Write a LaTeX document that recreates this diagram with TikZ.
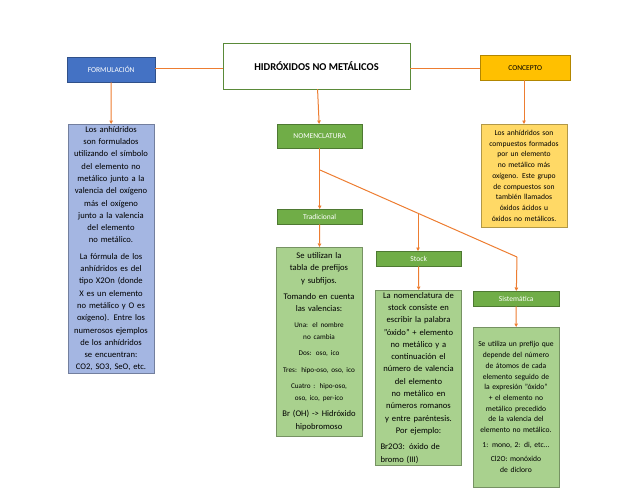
\documentclass[tikz,border=0pt]{standalone}
\usepackage{fontspec}
\setmainfont{Carlito}
\usetikzlibrary{arrows.meta}
\definecolor{lineor}{HTML}{ED7D31}
\definecolor{bluebox}{HTML}{4472C4}
\definecolor{bluelight}{HTML}{A4B6E2}
\definecolor{yellowbox}{HTML}{FFC000}
\definecolor{yellowlight}{HTML}{FFD966}
\definecolor{greenbox}{HTML}{70AD47}
\definecolor{greenlight}{HTML}{A9D18E}
\hyphenpenalty=10000
\tikzset{
  label box/.style={draw=#1!70!black,fill=#1,text=white,font=\fontsize{7.5}{9}\selectfont,minimum height=15pt,inner sep=1pt},
  text box/.style={draw=#1!70!black,fill=#1,font=\fontsize{8.6}{12.3}\selectfont,align=center,anchor=north,inner sep=2pt,text width=76pt,inner xsep=5pt},
  link/.style={lineor,line width=1pt},
  arr/.style={link,-{Triangle[length=3.5pt,width=3.5pt]}}
}
\begin{document}
\begin{tikzpicture}[x=1pt,y=-1pt]
\useasboundingbox (0,0) rectangle (638,493);
\node[draw=greenbox!80!black,minimum width=187pt,minimum height=46pt,font=\bfseries\fontsize{10.5}{12}\selectfont] (title) at (316.5,66) {HIDRÓXIDOS NO METÁLICOS};
\node[label box=bluebox,minimum width=88pt,minimum height=25pt,anchor=north west] (form) at (67,57) {FORMULACIÓN};
\node[label box=yellowbox,text=black,minimum width=90pt,minimum height=25pt,anchor=north west] (conc) at (480,55) {CONCEPTO};
\node[label box=greenbox,minimum width=85pt,minimum height=24pt,anchor=north west] (nomen) at (277,124) {NOMENCLATURA};
\node[label box=greenbox,minimum width=85pt,anchor=north west] (trad) at (277,209) {Tradicional};
\node[label box=greenbox,minimum width=85pt,anchor=north west] (stock) at (376,251) {Stock};
\node[label box=greenbox,minimum width=86pt,anchor=north west] (sist) at (473,291) {Sistemática};
% text boxes
\node[text box=bluelight,minimum height=249pt] (formtxt) at (111,124) {Los anhídridos son formulados utilizando el símbolo del elemento no metálico junto a la valencia del oxígeno más el oxígeno junto a la valencia del elemento no metálico.\\[4pt] La fórmula de los anhídridos es del tipo X2On (donde X es un elemento no metálico y O es oxígeno). Entre los numerosos ejemplos de los anhídridos se encuentran: CO2, SO3, SeO, etc.};
\node[text box=yellowlight,minimum height=103pt,font=\fontsize{7.6}{10.7}\selectfont] (conctxt) at (524,124) {Los anhídridos son compuestos formados por un elemento no metálico más oxígeno. Este grupo de compuestos son también llamados óxidos ácidos u óxidos no metálicos.};
\node[text box=greenlight,minimum height=189pt] (tradtxt) at (319,247) {Se utilizan la tabla de prefijos y subfijos.\\[4pt] Tomando en cuenta las valencias:\\[3pt] {\fontsize{7.2}{11}\selectfont Una: el nombre no cambia}\\[4pt] {\fontsize{7.2}{11}\selectfont Dos: oso, ico}\\[4pt] {\fontsize{7.2}{11}\selectfont Tres: hipo-oso, oso, ico}\\[4pt] {\fontsize{7.2}{11}\selectfont Cuatro : hipo-oso, oso, ico, per-ico}\\[4pt] Br (OH) -> Hidróxido hipobromoso};
\node[text box=greenlight,minimum height=175pt] (stocktxt) at (418.5,290) {La nomenclatura de stock consiste en escribir la palabra "óxido" + elemento no metálico y a continuación el número de valencia del elemento no metálico en números romanos y entre paréntesis. Por ejemplo:\\[4pt] \makebox[76pt][s]{Br2O3: óxido de}\\ \makebox[76pt][l]{bromo (III)}};
\node[text box=greenlight,minimum height=160pt,font=\fontsize{7.6}{10.7}\selectfont] (sisttxt) at (516,327) {Se utiliza un prefijo que depende del número de átomos de cada elemento seguido de la expresión "óxido" + el elemento no metálico precedido de la valencia del elemento no metálico.\\[4pt] 1: mono, 2: di, etc...\\[4pt] Cl2O: monóxido de dicloro};
% connectors
\coordinate (fork) at (320,170);
\coordinate (bend) at (517,257);
\coordinate (split) at (418,214);
\draw[link] (title.west |- 0,68) -- (form.east |- 0,68);
\draw[link] (title.east |- 0,68) -- (conc.west |- 0,68);
\draw[arr] (form) -- (formtxt);
\draw[arr] (conc.south -| conctxt) -- (conctxt);
\draw[arr] (title) -- (nomen);
\draw[arr] (nomen) -- (trad);
\draw[link] (fork) -- (bend);
\draw[arr] (bend) -- (sist);
\draw[arr] (split) -- (stock.north -| split);
\draw[arr] (trad) -- (tradtxt);
\draw[arr] (stock) -- (stocktxt);
\draw[arr] (sist) -- (sisttxt);
\end{tikzpicture}
\end{document}
